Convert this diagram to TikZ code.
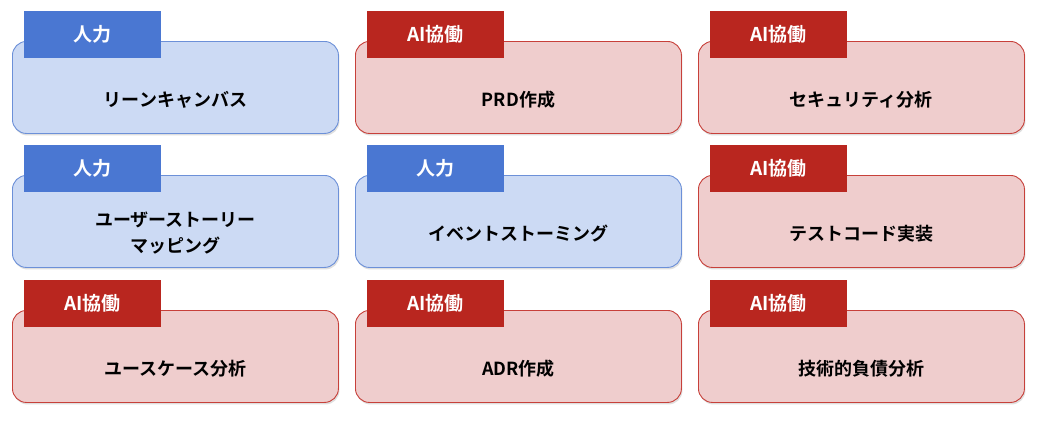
\documentclass[tikz,border=0pt]{standalone}
\usepackage{fontspec}
\setmainfont{Noto Sans CJK JP}[BoldFont={Noto Sans CJK JP Bold}]
\usetikzlibrary{shadows}
\definecolor{btab}{HTML}{4A77D2}
\definecolor{bfill}{HTML}{CCDAF4}
\definecolor{bline}{HTML}{6C90D8}
\definecolor{rtab}{HTML}{B9261F}
\definecolor{rfill}{HTML}{EFCDCD}
\definecolor{rline}{HTML}{C7403A}
\tikzset{
 card/.style={draw=#1line, fill=#1fill, line width=0.9pt, rounded corners=14pt, minimum width=326pt, minimum height=92pt, anchor=north west, drop shadow={shadow xshift=1pt,shadow yshift=-2pt,opacity=0.25}, inner sep=0pt},
 tab/.style={fill=#1tab, minimum width=137pt, minimum height=47pt, anchor=north west, inner sep=0pt, text=white, font=\bfseries\fontsize{19pt}{21pt}\selectfont},
 lbl/.style={font=\bfseries\fontsize{18pt}{26pt}\selectfont, align=center}
}
\begin{document}
\begin{tikzpicture}[x=1pt,y=-1pt]
\useasboundingbox[fill=white] (0,0) rectangle (1037,421);
\foreach \c/\xx in {1/12,2/355,3/698}{}
\def\cell#1#2#3#4#5{%
 \node[card=#4] (c#1) at (#2,#3+30) {};
 \node[tab=#4] (t#1) at (#2+12,#3) {\ifx r#4 AI協働\else 人力\fi};
 \node[lbl] (l#1) at ([yshift=-12pt]c#1.center) {#5};
}
\cell{11}{12}{11}{b}{リーンキャンバス}
\cell{12}{355}{11}{r}{PRD作成}
\cell{13}{698}{11}{r}{セキュリティ分析}
\cell{21}{12}{145}{b}{ユーザーストーリー\\マッピング}
\cell{22}{355}{145}{b}{イベントストーミング}
\cell{23}{698}{145}{r}{テストコード実装}
\cell{31}{12}{280}{r}{ユースケース分析}
\cell{32}{355}{280}{r}{ADR作成}
\cell{33}{698}{280}{r}{技術的負債分析}
\end{tikzpicture}
\end{document}
